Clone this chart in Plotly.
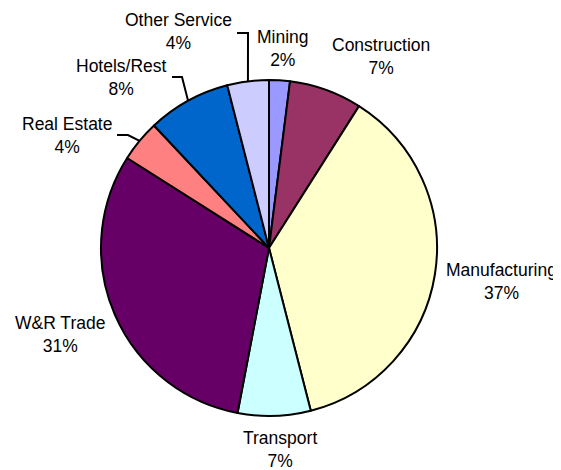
import math
import plotly.graph_objects as go

# ---- data ----
sectors = ["Mining", "Construction", "Manufacturing", "Transport",
           "W&R Trade", "Real Estate", "Hotels/Rest", "Other Service"]
shares = [2, 7, 37, 7, 31, 4, 8, 4]
colors = ["#9999FF", "#993366", "#FFFFCC", "#CCFFFF",
          "#660066", "#FF8080", "#0066CC", "#CCCCFF"]

# ---- layout (pixels, in window coordinates) ----
W, H = 561, 470
OFF = 8  # default page body margin
CX, CY, R = 269, 248, 168
FONT = dict(family="Arial, Liberation Sans, sans-serif", size=17.5, color="#000000")

# label text-block centres (pixels)
label_pos = {
    "Mining": (283, 48),
    "Construction": (381, 57),
    "Manufacturing": (501, 281),
    "Transport": (280, 449),
    "W&R Trade": (60, 334),
    "Real Estate": (67, 136),
    "Hotels/Rest": (121, 77),
    "Other Service": (178, 32),
}
# leader lines: start point and elbow (pixels); they end on the slice mid-angle edge
leaders = {
    "Other Service": ((237, 33), (248, 33)),
    "Hotels/Rest": ((172, 77), (182, 77)),
    "Real Estate": ((117, 135), (128, 135)),
}


def px(x):
    return (x - OFF) / W


def py(y):
    return 1 - (y - OFF) / H


fig = go.Figure(go.Pie(
    labels=sectors, values=shares, sort=False, direction="clockwise", rotation=0,
    marker=dict(colors=colors, line=dict(color="#000000", width=2)),
    textinfo="none", hoverinfo="label+percent",
    domain=dict(x=[px(CX - R), px(CX + R)], y=[py(CY + R), py(CY - R)]),
    showlegend=False,
))

total = sum(shares)
cum = 0
annotations = []
shapes = []
for name, v in zip(sectors, shares):
    mid = (cum + v / 2) / total * 2 * math.pi
    cum += v
    pct = round(v / total * 100)
    lx, ly = label_pos[name]
    annotations.append(dict(
        x=px(lx), y=py(ly), xref="paper", yref="paper",
        text=f"{name}<br>{pct}%", showarrow=False, font=FONT,
        xanchor="center", yanchor="middle", align="center",
    ))
    if name in leaders:
        (sx, sy), (ex, ey) = leaders[name]
        tx = CX + R * math.sin(mid)
        ty = CY - R * math.cos(mid)
        shapes.append(dict(
            type="path", xref="paper", yref="paper",
            path=f"M {px(sx)} {py(sy)} L {px(ex)} {py(ey)} L {px(tx)} {py(ty)}",
            line=dict(color="#000000", width=2),
        ))

fig.update_layout(
    width=W, height=H, margin=dict(l=0, r=0, t=0, b=0),
    paper_bgcolor="#FFFFFF", plot_bgcolor="#FFFFFF",
    annotations=annotations, shapes=shapes,
)

fig.write_html("out.html")
